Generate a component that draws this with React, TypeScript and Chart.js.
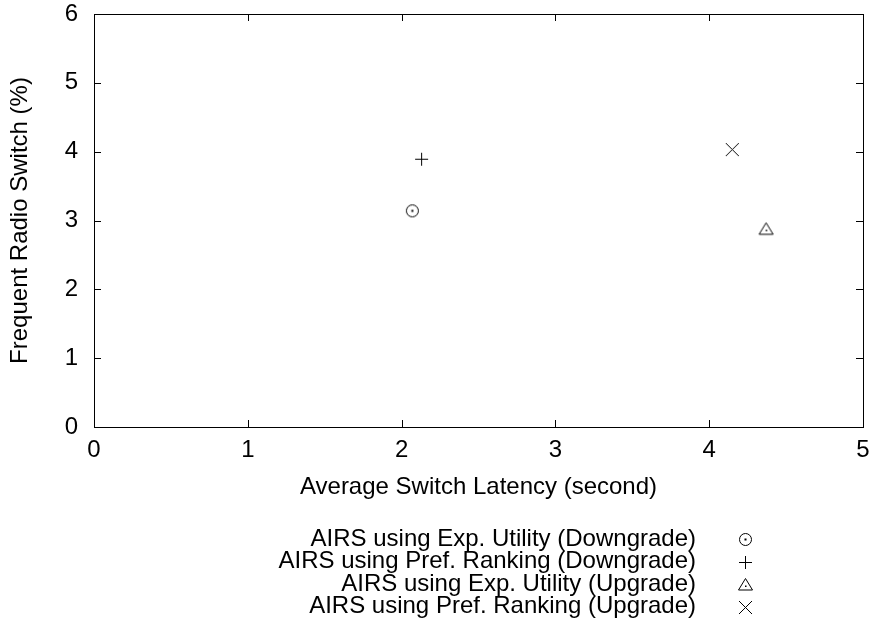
import React, { useEffect, useRef } from 'react';
import { Chart, registerables } from 'chart.js';

Chart.register(...registerables);

const seriesLabels = [
  'AIRS using Exp. Utility (Downgrade)',
  'AIRS using Pref. Ranking (Downgrade)',
  'AIRS using Exp. Utility (Upgrade)',
  'AIRS using Pref. Ranking (Upgrade)',
];
const latencyX = [2.07, 2.13, 4.37, 4.15];
const radioSwitchY = [3.14, 3.89, 2.88, 4.03];
const symbolKinds = ['circleDot', 'plus', 'triangleDot', 'cross'];
const xTickValues = [0, 1, 2, 3, 4, 5];
const yTickValues = [0, 1, 2, 3, 4, 5, 6];
const xTitle = 'Average Switch Latency (second)';
const yTitle = 'Frequent Radio Switch (%)';

const FONT = "'Liberation Sans', Arial, Helvetica, sans-serif";
const FONT_SIZE = 24;

function drawSymbol(ctx: CanvasRenderingContext2D, kind: string, cx: number, cy: number) {
  ctx.save();
  ctx.strokeStyle = '#000';
  ctx.fillStyle = '#000';
  ctx.lineWidth = 1;
  ctx.beginPath();
  if (kind === 'circleDot') {
    ctx.arc(cx, cy, 6, 0, Math.PI * 2);
    ctx.stroke();
    ctx.fillRect(cx - 1, cy - 1, 2, 2);
  } else if (kind === 'plus') {
    ctx.moveTo(cx - 6.5, cy);
    ctx.lineTo(cx + 6.5, cy);
    ctx.moveTo(cx, cy - 6.5);
    ctx.lineTo(cx, cy + 6.5);
    ctx.stroke();
  } else if (kind === 'triangleDot') {
    ctx.moveTo(cx, cy - 6);
    ctx.lineTo(cx + 7, cy + 5.5);
    ctx.lineTo(cx - 7, cy + 5.5);
    ctx.closePath();
    ctx.stroke();
    ctx.fillRect(cx - 0.5, cy + 1, 1.5, 1.5);
  } else {
    ctx.moveTo(cx - 6.5, cy - 6.5);
    ctx.lineTo(cx + 6.5, cy + 6.5);
    ctx.moveTo(cx + 6.5, cy - 6.5);
    ctx.lineTo(cx - 6.5, cy + 6.5);
    ctx.stroke();
  }
  ctx.restore();
}

function makeSymbolImage(kind: string): HTMLCanvasElement {
  const c = document.createElement('canvas');
  c.width = 21;
  c.height = 21;
  const ctx = c.getContext('2d')!;
  drawSymbol(ctx, kind, 10.5, 10.5);
  return c;
}

const frameAndLegend = {
  id: 'frameAndLegend',
  afterDraw(chart: any) {
    const { ctx, chartArea } = chart;
    const { left, right, top, bottom } = chartArea;
    const xs = chart.scales.x;
    const ys = chart.scales.y;
    const tick = 7;
    ctx.save();
    ctx.strokeStyle = '#000';
    ctx.lineWidth = 1;
    ctx.beginPath();
    xTickValues.forEach((v) => {
      const px = Math.round(xs.getPixelForValue(v)) + 0.5;
      ctx.moveTo(px, bottom);
      ctx.lineTo(px, bottom - tick);
      ctx.moveTo(px, top);
      ctx.lineTo(px, top + tick);
    });
    yTickValues.forEach((v) => {
      const py = Math.round(ys.getPixelForValue(v)) + 0.5;
      ctx.moveTo(left, py);
      ctx.lineTo(left + tick, py);
      ctx.moveTo(right, py);
      ctx.lineTo(right - tick, py);
    });
    ctx.stroke();
    ctx.strokeRect(Math.round(left) + 0.5, Math.round(top) + 0.5, Math.round(right - left), Math.round(bottom - top));

    ctx.font = `${FONT_SIZE}px ${FONT}`;
    ctx.fillStyle = '#000';
    ctx.textAlign = 'right';
    ctx.textBaseline = 'middle';
    seriesLabels.forEach((label, i) => {
      const y = 539 + i * 22.5;
      ctx.fillText(label, 696, y);
      drawSymbol(ctx, symbolKinds[i], 745.5, Math.round(y) + 0.5);
    });
    ctx.restore();
  },
};

export default function App() {
  const ref = useRef<HTMLCanvasElement | null>(null);
  useEffect(() => {
    if (!ref.current) return;
    const images = symbolKinds.map(makeSymbolImage);
    const chart = new Chart(ref.current, {
      type: 'scatter',
      data: {
        datasets: seriesLabels.map((label, i) => ({
          label,
          data: [{ x: latencyX[i], y: radioSwitchY[i] }],
          pointStyle: images[i] as any,
          pointRadius: 7,
          borderColor: '#000',
          backgroundColor: '#000',
        })),
      },
      options: {
        responsive: false,
        animation: false,
        events: [],
        layout: { padding: { top: 14, right: 13, left: 0, bottom: 0 } },
        plugins: {
          legend: { display: false },
          tooltip: { enabled: false },
          title: { display: false },
        },
        scales: {
          x: {
            type: 'linear',
            min: 0,
            max: 5,
            afterFit: (s: any) => {
              s.height = 197;
              s.paddingLeft = 0;
              s.paddingRight = 0;
              s.paddingTop = 0;
              s.paddingBottom = 0;
            },
            afterBuildTicks: (s: any) => { s.ticks = xTickValues.map((v) => ({ value: v })); },
            grid: { display: false, drawTicks: false },
            border: { display: false },
            ticks: {
              color: '#000',
              font: { family: FONT, size: FONT_SIZE },
              padding: 9,
              maxRotation: 0,
            },
            title: {
              display: true,
              text: xTitle,
              color: '#000',
              font: { family: FONT, size: FONT_SIZE },
              padding: { top: 0, bottom: 122 },
            },
          },
          y: {
            type: 'linear',
            min: 0,
            max: 6,
            afterFit: (s: any) => {
              s.width = 94;
              s.paddingLeft = 0;
              s.paddingRight = 0;
              s.paddingTop = 0;
              s.paddingBottom = 0;
            },
            afterBuildTicks: (s: any) => { s.ticks = yTickValues.map((v) => ({ value: v })); },
            grid: { display: false, drawTicks: false },
            border: { display: false },
            ticks: {
              color: '#000',
              font: { family: FONT, size: FONT_SIZE },
              padding: 16,
            },
            title: {
              display: true,
              text: yTitle,
              color: '#000',
              font: { family: FONT, size: FONT_SIZE },
              padding: { top: 6, bottom: 0 },
            },
          },
        },
      },
      plugins: [frameAndLegend],
    });
    return () => chart.destroy();
  }, []);
  return (
    <div style={{ position: 'absolute', left: 0, top: 0, width: 876, height: 624, background: '#fff' }}>
      <canvas ref={ref} width={876} height={624} style={{ display: 'block' }} />
    </div>
  );
}
